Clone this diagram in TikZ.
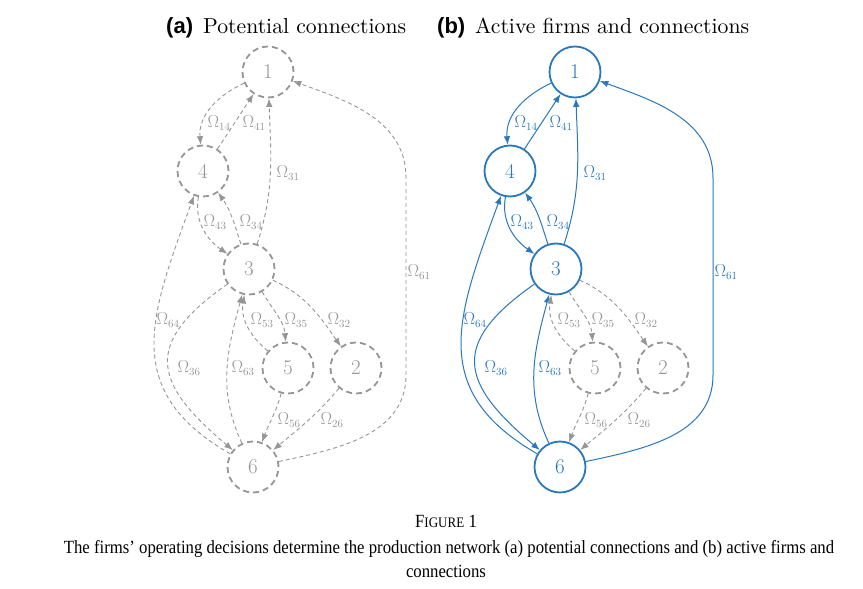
\documentclass[tikz,border=0pt]{standalone}
\usepackage{fontspec}
\newfontfamily\headsans{Liberation Sans}
\newfontfamily\headserif{lmroman10-regular.otf}
\newfontfamily\capfont[FakeStretch=0.9]{Liberation Serif}
\usetikzlibrary{arrows.meta}
\definecolor{actblue}{RGB}{40,120,190}
\definecolor{potgray}{RGB}{150,150,150}
\tikzset{
  pot node/.style={circle,draw=potgray,line width=1.8pt,dash pattern=on 6pt off 4pt,
    minimum size=51pt,inner sep=0pt,text=potgray,font=\fontsize{21}{21}\selectfont},
  pot edge/.style={draw=potgray,line width=0.9pt,dash pattern=on 4pt off 3pt,
    -{Latex[length=8.5pt,width=6.5pt]}},
  pot lab/.style={text=potgray,inner sep=0pt,font=\fontsize{16}{16}\selectfont},
  blue node/.style={circle,draw=actblue,line width=1.8pt,
    minimum size=51pt,inner sep=0pt,text=actblue,font=\fontsize{21}{21}\selectfont},
  blue edge/.style={draw=actblue,line width=1pt,-{Latex[length=8.5pt,width=6.5pt]}},
  blue lab/.style={text=actblue,inner sep=0pt,font=\fontsize{16}{16}\selectfont},
  paneltag/.style={anchor=base west,inner sep=0pt,font=\headsans\bfseries\fontsize{22}{24}\selectfont},
  paneltitle/.style={anchor=base west,inner sep=0pt,font=\headserif\fontsize{21.7}{24}\selectfont},
  captext/.style={anchor=base,inner sep=0pt,font=\capfont\fontsize{18.6}{22}\selectfont}
}
\newcommand{\panelbody}[1]{%
  \node[act node] (#11) at (268,-72) {1};
  \node[act node] (#14) at (203,-171) {4};
  \node[act node] (#13) at (249,-269) {3};
  \node[pot node] (#15) at (288,-368) {5};
  \node[pot node] (#12) at (356,-368) {2};
  \node[act node] (#16) at (253,-467) {6};
  \coordinate (#1c61a) at (406,-375);
  \coordinate (#1c61b) at (406,-178);
  \draw[act edge] (#11) to[out=205,in=95] (#14);
  \draw[act edge] (#14) -- (#11);
  \draw[act edge] (#13) to[out=72,in=-88] (#11);
  \draw[act edge] (#14) to[out=-100,in=145] (#13);
  \draw[act edge] (#13) to[out=108,in=-55] (#14);
  \draw[act edge] (#16) to[out=12,in=-90] (#1c61a) -- (#1c61b) to[out=90,in=-20] (#11);
  \draw[act edge] (#16) to[out=150,in=-110,looseness=1.25] (#14);
  \draw[act edge] (#13) to[out=215,in=140,looseness=1.6] (#16);
  \draw[act edge] (#16) to[out=115,in=-105] (#13);
  \draw[pot edge] (#15) to[out=140,in=-100] (#13);
  \draw[pot edge] (#13) to[out=-60,in=95] (#15);
  \draw[pot edge] (#13) to[out=-25,in=125] (#12);
  \draw[pot edge] (#15) to[out=-105,in=70] (#16);
  \draw[pot edge] (#12) to[out=-130,in=40] (#16);
  \node[act lab] (#1l14) at (219,-123) {$\Omega_{14}$};
  \node[act lab] (#1l41) at (254,-123) {$\Omega_{41}$};
  \node[act lab] (#1l31) at (288,-173) {$\Omega_{31}$};
  \node[act lab] (#1l43) at (215,-222) {$\Omega_{43}$};
  \node[act lab] (#1l34) at (251,-222) {$\Omega_{34}$};
  \node[act lab] (#1l61) at (419,-272) {$\Omega_{61}$};
  \node[act lab] (#1l64) at (168,-320) {$\Omega_{64}$};
  \node[pot lab] (#1l53) at (262,-320) {$\Omega_{53}$};
  \node[pot lab] (#1l35) at (296,-320) {$\Omega_{35}$};
  \node[pot lab] (#1l32) at (339,-320) {$\Omega_{32}$};
  \node[act lab] (#1l36) at (189,-368) {$\Omega_{36}$};
  \node[act lab] (#1l63) at (243,-368) {$\Omega_{63}$};
  \node[pot lab] (#1l56) at (289,-420) {$\Omega_{56}$};
  \node[pot lab] (#1l26) at (332,-420) {$\Omega_{26}$};
}
\begin{document}
\begin{tikzpicture}[x=1pt,y=1pt]
  \fill[white] (0,0) rectangle (863,-589);
  \useasboundingbox (0,0) rectangle (863,-589);
  \begin{scope}[act node/.style={pot node},act edge/.style={pot edge},act lab/.style={pot lab}]
    \panelbody{a}
  \end{scope}
  \begin{scope}[xshift=307pt,act node/.style={blue node},act edge/.style={blue edge},act lab/.style={blue lab}]
    \panelbody{b}
  \end{scope}
  \node[paneltag] (taga) at (166,-33) {(a)};
  \node[paneltitle] (ta) at (203,-33) {Potential connections};
  \node[paneltag] (tagb) at (437,-33) {(b)};
  \node[paneltitle] (tb) at (475,-33) {Active firms and connections};
  \node[captext] (cap1) at (446,-527) {F{\fontsize{14.5}{16}\selectfont IGURE} 1};
  \node[captext] (cap2) at (449,-553) {The firms’ operating decisions determine the production network (a) potential connections and (b) active firms and};
  \node[captext] (cap3) at (446,-577) {connections};
\end{tikzpicture}
\end{document}
